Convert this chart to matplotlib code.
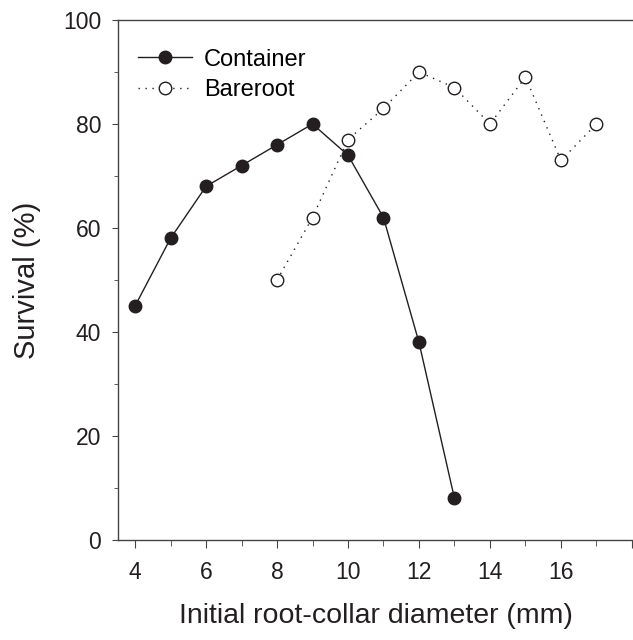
import matplotlib.pyplot as plt
from matplotlib.ticker import MultipleLocator

plt.rcParams['font.family'] = ['Liberation Sans', 'DejaVu Sans']

# Data
container_x = [4, 5, 6, 7, 8, 9, 10, 11, 12, 13]
container_y = [45, 58, 68, 72, 76, 80, 74, 62, 38, 8]
bareroot_x = [8, 9, 10, 11, 12, 13, 14, 15, 16, 17]
bareroot_y = [50, 62, 77, 83, 90, 87, 80, 89, 73, 80]

ink = '#231f20'

fig = plt.figure(figsize=(6.33, 6.4), dpi=100)
ax = fig.add_axes([118 / 633, 100 / 640, 1 - 118 / 633, 520 / 640])

ax.plot(container_x, container_y, '-', color=ink, lw=1.0, marker='o',
        ms=9, mfc=ink, mec=ink, label='Container', clip_on=False)
ax.plot(bareroot_x, bareroot_y, color=ink, lw=1.0, dashes=(1, 4), marker='o',
        ms=9, mfc='white', mec=ink, mew=1.0, label='Bareroot', clip_on=False)

ax.set_xlim(3.52, 18.03)
ax.set_ylim(0, 100)
ax.xaxis.set_minor_locator(MultipleLocator(1))
ax.yaxis.set_major_locator(MultipleLocator(20))
ax.yaxis.set_minor_locator(MultipleLocator(10))
ax.set_xticks([4, 6, 8, 10, 12, 14, 16, 18])
ax.set_xticklabels(['4', '6', '8', '10', '12', '14', '16', ''])

ax.spines['right'].set_visible(False)
for s in ['left', 'bottom', 'top']:
    ax.spines[s].set_color('#444444')
    ax.spines[s].set_linewidth(1.0)
ax.tick_params(which='both', direction='out', colors='#444444', labelcolor=ink,
               labelsize=16.5, top=False, right=False)
ax.tick_params(axis='x', which='major', length=6, pad=9)
ax.tick_params(axis='x', which='minor', length=4)
ax.tick_params(axis='y', which='major', length=4, pad=8)
ax.tick_params(axis='y', which='minor', length=3)

ax.set_xlabel('Initial root-collar diameter (mm)', fontsize=20.5, color=ink, labelpad=14)
ax.set_ylabel('Survival (%)', fontsize=21, color=ink, labelpad=16)

ax.legend(loc='upper left', frameon=False, fontsize=17, handlelength=2.3,
          handletextpad=0.5, labelspacing=0.35, borderaxespad=0.0,
          bbox_to_anchor=(0.02, 0.963))

plt.savefig('out.png', dpi=100)
